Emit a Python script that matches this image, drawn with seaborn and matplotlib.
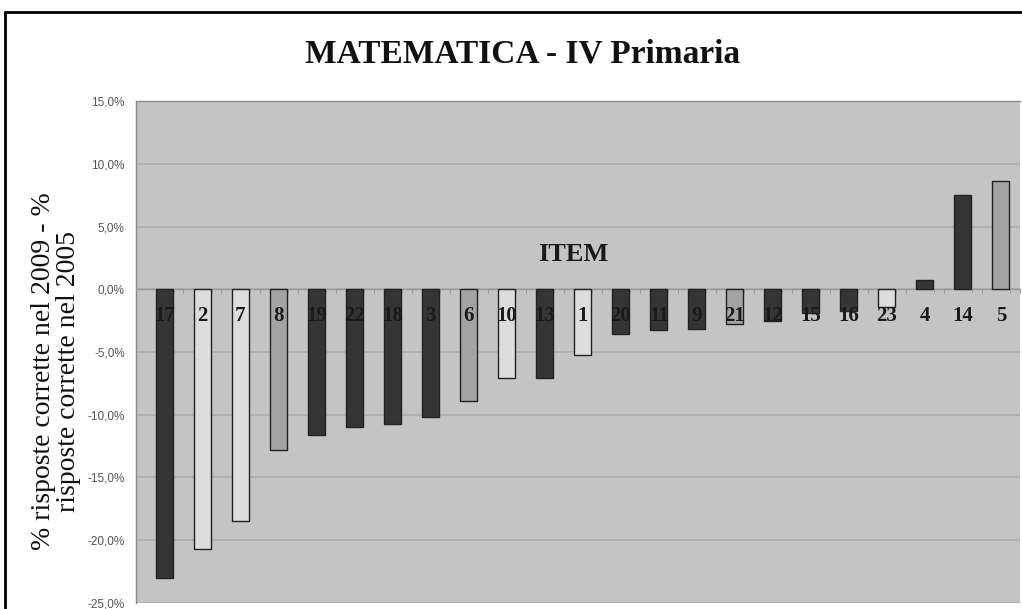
import pandas as pd
import matplotlib.pyplot as plt
import seaborn as sns
from matplotlib.lines import Line2D
from matplotlib.ticker import FuncFormatter, MultipleLocator

# dati: differenza % risposte corrette 2009 - 2005 per item
items = ['17', '2', '7', '8', '19', '22', '18', '3', '6', '10', '13', '1',
         '20', '11', '9', '21', '12', '15', '16', '23', '4', '14', '5']
diff = [-23.0, -20.7, -18.5, -12.8, -11.6, -11.0, -10.7, -10.2, -8.9, -7.1, -7.1, -5.2,
        -3.6, -3.25, -3.15, -2.8, -2.5, -1.9, -1.75, -1.4, 0.7, 7.5, 8.6]
tono = ['scuro', 'chiaro', 'chiaro', 'medio', 'scuro', 'scuro', 'scuro', 'scuro', 'medio',
        'chiaro', 'scuro', 'chiaro', 'scuro', 'scuro', 'scuro', 'medio', 'scuro', 'scuro',
        'scuro', 'chiaro', 'scuro', 'scuro', 'medio']

colori = {'scuro': '#353535', 'chiaro': '#dcdcdc', 'medio': '#a3a3a3'}

df = pd.DataFrame({'item': items, 'diff': diff, 'tono': tono})

sns.set_style('white')
plt.rcParams['font.family'] = ['Liberation Serif', 'DejaVu Serif']

fig = plt.figure(figsize=(10.22, 6.09), dpi=100)
ax = fig.add_axes([0.133, 0.01, 0.865, 0.824])
ax.set_facecolor('#c4c4c4')

sns.barplot(data=df, x='item', y='diff', hue='tono', palette=colori, order=items,
            dodge=False, width=0.45, edgecolor='#222222', linewidth=1.0,
            legend=False, ax=ax, zorder=3)

ax.set_ylim(-25, 15)
ax.set_xlim(-0.5, len(items) - 0.5)
ax.yaxis.set_major_locator(MultipleLocator(5))
ax.yaxis.set_major_formatter(FuncFormatter(lambda v, p: f'{v:.1f}%'.replace('.', ',')))
ax.grid(axis='y', color='#adadad', linewidth=1.2, zorder=0)
ax.set_axisbelow(True)

for s in ['top', 'right', 'left']:
    ax.spines[s].set_color('#8a8a8a')
    ax.spines[s].set_linewidth(1.0)
ax.spines['right'].set_visible(False)
ax.spines['bottom'].set_position(('data', 0))
ax.spines['bottom'].set_color('#9a9a9a')
ax.spines['bottom'].set_linewidth(1.0)

# tacche sull'asse dello zero, etichette sotto come testo
ax.set_xticks([i + 0.5 for i in range(len(items))])
ax.set_xticks([i + 0.25 for i in range(-1, len(items))], minor=True)
ax.tick_params(axis='x', which='both', direction='out', length=3, color='#9a9a9a',
               labelbottom=False, bottom=True)
ax.tick_params(axis='y', labelsize=8.5, labelcolor='#555555', length=0, pad=8)
for lab in ax.get_yticklabels():
    lab.set_family(['Liberation Sans', 'DejaVu Sans'])

for i, it in enumerate(items):
    ax.text(i, -2.15, it, ha='center', va='center', fontsize=15, fontweight='bold',
            color='#1a1a1a', zorder=5)

ax.text(10.75, 2.75, 'ITEM', ha='center', va='center', fontsize=19, fontweight='bold',
        color='#1a1a1a')

ax.set_xlabel('')
ax.set_ylabel('')
fig.text(0.055, 0.39, '% risposte corrette nel 2009 - %\nrisposte corrette nel 2005',
         rotation=90, ha='center', va='center', fontsize=20, linespacing=1.0,
         multialignment='center', color='#111111')

fig.text(0.511, 0.912, 'MATEMATICA - IV Primaria', ha='center', va='center',
         fontsize=24, fontweight='bold', color='#111111')

# cornice del grafico
fig.add_artist(Line2D([0.005, 0.005], [0.0, 0.981], color='black', linewidth=2,
                      transform=fig.transFigure))
fig.add_artist(Line2D([0.005, 1.0], [0.981, 0.981], color='black', linewidth=2,
                      transform=fig.transFigure))

fig.savefig('out.png', dpi=100, facecolor='white')
